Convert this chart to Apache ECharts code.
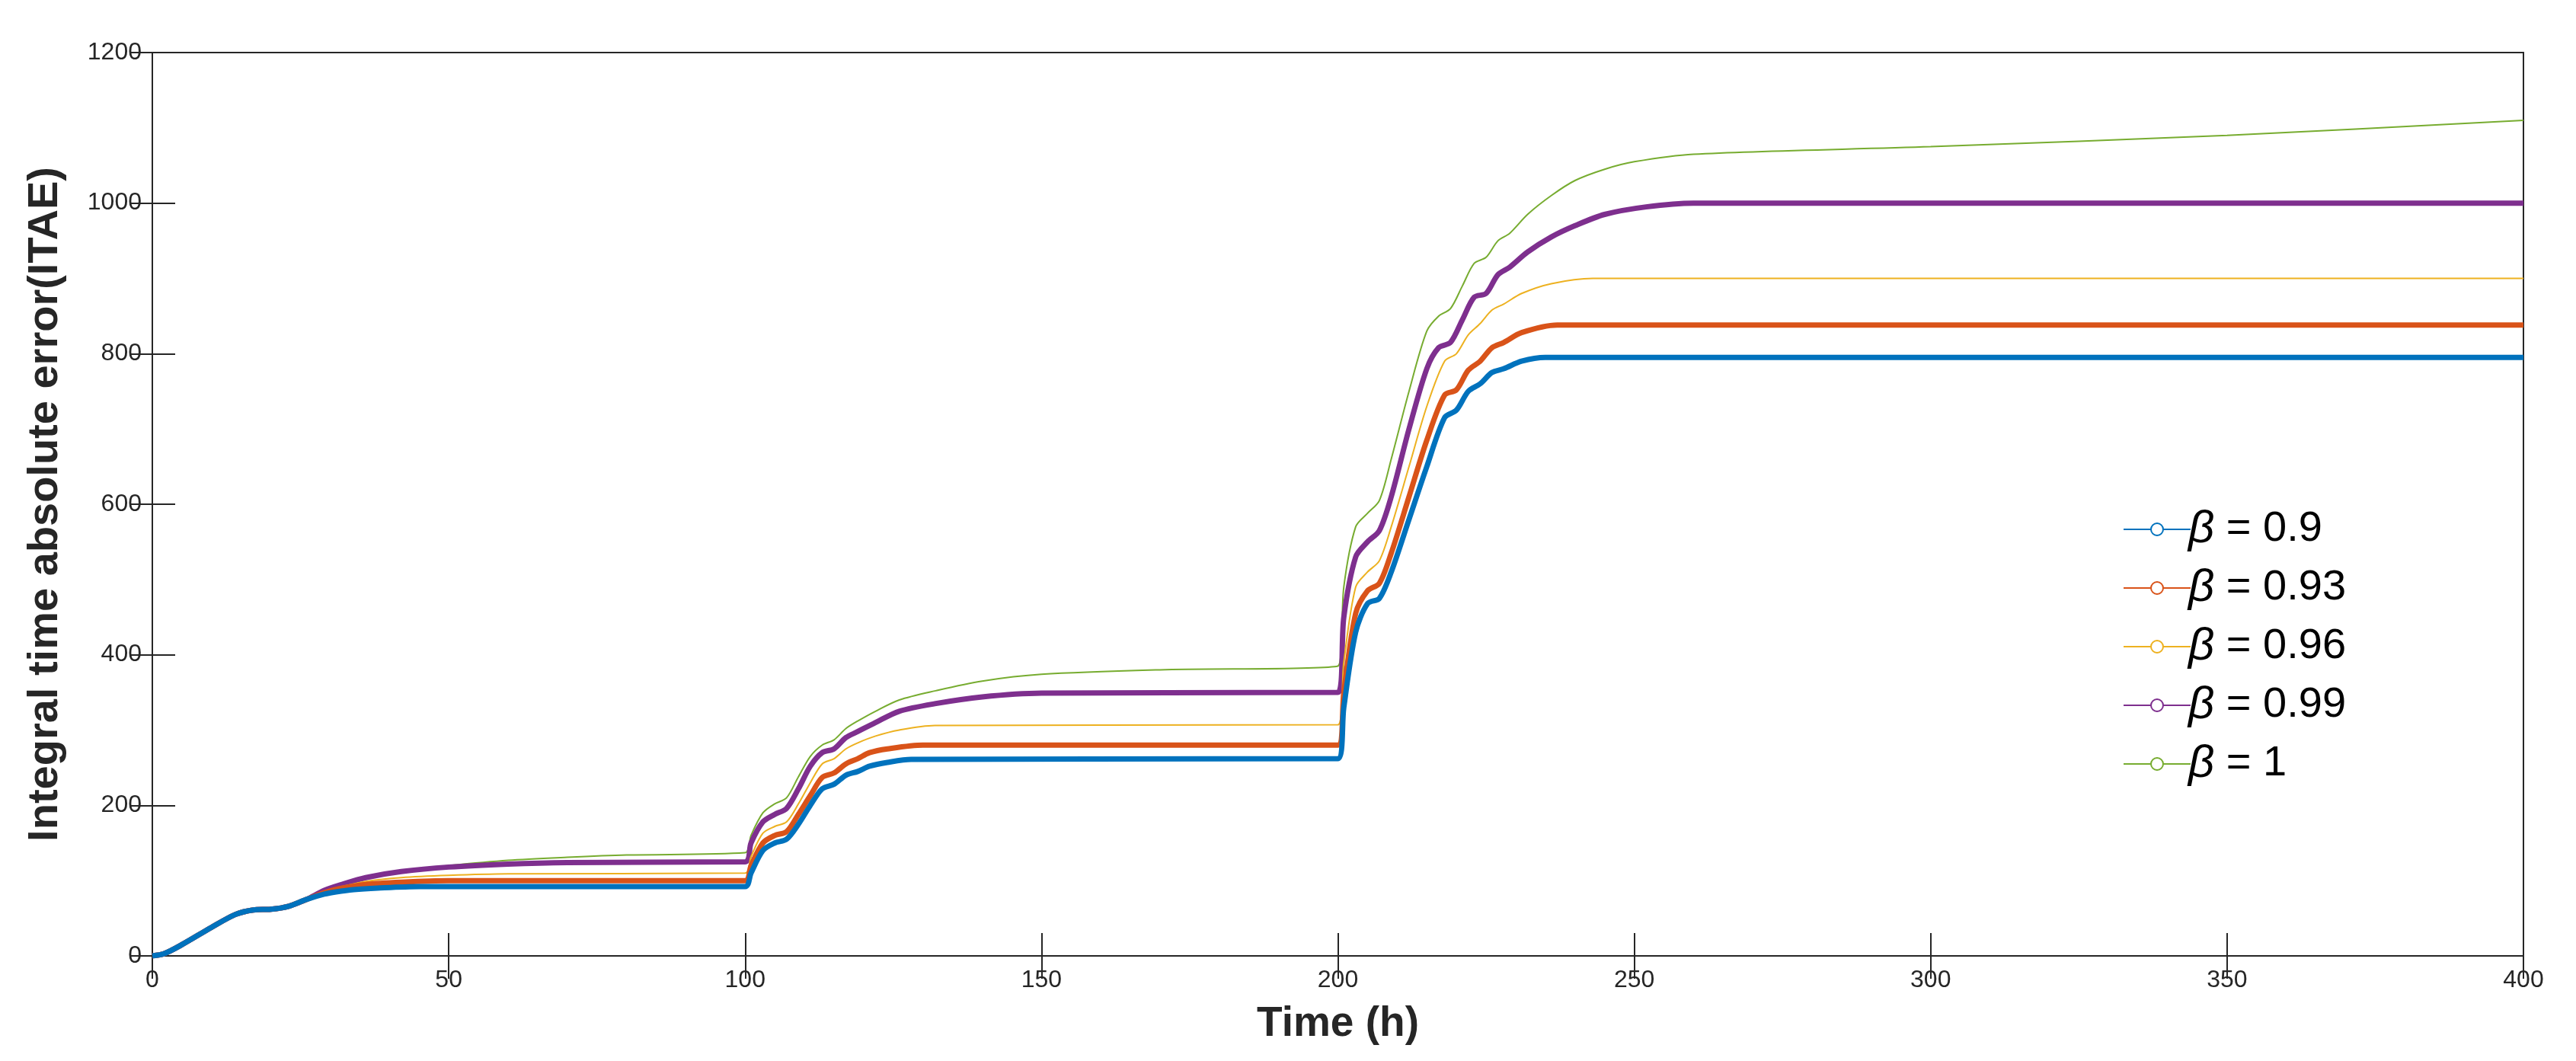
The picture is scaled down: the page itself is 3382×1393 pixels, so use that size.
<!DOCTYPE html>
<html>
<head>
<meta charset="utf-8">
<script src="https://cdn.jsdelivr.net/npm/echarts@6/dist/echarts.min.js"></script>
<style>html,body{margin:0;padding:0;background:#fff}#main{width:3382px;height:1393px}</style>
</head>
<body>
<div id="main"></div>
<script>
// ITAE curves, [time (h), ITAE]
var names = ['β = 0.9', 'β = 0.93', 'β = 0.96', 'β = 0.99', 'β = 1'];
var colors = ['#0072BD', '#D95319', '#EDB120', '#7E2F8E', '#77AC30'];
var widths = [7, 7, 2, 7, 2];

var startPart = [[0,0],[2,3],[5,15],[10,38],[14,55],[17,61],[20,62],[23,66],[26,75]];

var beta090 = startPart.concat([[29,82],[31,85],[34,88],[38,90],[45,92],[100,92],
  [101,110],[103,140],[105,150],[107,155],[109,175],[111,200],[113,222],[115,228],[117,240],[119,245],[121,252],[124,257],[128,261],[200,262],
  [201,330],[203,430],[205,468],[207,475],[209,510],[212,580],[215,650],[218,715],[220,725],[222,750],[224,760],[226,775],[228,780],[231,790],[235,795],[400,795]]);

var beta093 = startPart.concat([[29,84],[32,90],[36,95],[42,98],[50,100],[100,100],
  [101,120],[103,150],[105,160],[107,165],[109,188],[111,213],[113,237],[115,243],[117,255],[119,262],[121,270],[124,275],[130,280],[200,280],
  [201,350],[203,455],[205,485],[207,495],[209,535],[212,610],[215,685],[218,745],[220,752],[222,778],[224,790],[226,808],[228,815],[231,828],[237,838],[400,838]]);

var beta096 = startPart.concat([[29,85],[32,92],[36,99],[42,104],[50,107],[60,109],[100,110],
  [101,132],[103,163],[105,172],[107,178],[109,202],[111,230],[113,255],[115,262],[117,275],[119,283],[122,292],[126,300],[132,306],[200,307],
  [201,390],[203,490],[205,510],[207,525],[209,570],[212,650],[215,730],[218,790],[220,800],[222,825],[224,840],[226,858],[228,866],[231,880],[236,893],[243,900],[400,900]]);

var beta099 = startPart.concat([[29,87],[32,95],[36,104],[42,112],[50,118],[60,122],[70,124],[100,125],
  [101,150],[103,178],[105,188],[107,196],[109,222],[111,252],[113,270],[115,275],[117,290],[119,298],[122,310],[126,325],[132,335],[140,344],[150,349],[200,350],
  [201,450],[203,530],[205,550],[207,565],[209,610],[212,700],[215,780],[217,808],[219,815],[221,845],[223,875],[225,880],[227,905],[229,915],[232,935],[236,955],[240,970],[245,985],[252,995],[260,1000],[400,1000]]);

var beta100 = startPart.concat([[29,88],[32,96],[36,105],[42,113],[50,120],[60,127],[70,131],[80,134],[100,137],
  [101,160],[103,190],[105,202],[107,210],[109,238],[111,265],[113,280],[115,287],[117,302],[119,312],[122,325],[126,340],[132,352],[140,365],[150,374],[170,380],[200,385],
  [201,490],[203,570],[205,588],[207,605],[209,660],[212,750],[215,830],[217,850],[219,860],[221,890],[223,920],[225,928],[227,950],[229,960],[232,985],[236,1010],[240,1030],[245,1045],[250,1055],[260,1065],[300,1075],[350,1090],[400,1110]]);

var allData = [beta090, beta093, beta096, beta099, beta100];

var myChart = echarts.init(document.getElementById('main'));

var axisCol = '#262626';
var font = 'Helvetica, Arial, "Liberation Sans", sans-serif';

var series = [];
for (var i = 0; i < names.length; i++) {
    series.push({
        name: names[i],
        type: 'line',
        data: allData[i],
        showSymbol: false,
        smooth: 0.3,
        color: colors[i],
        lineStyle: { width: widths[i], color: colors[i] },
        z: 10 - i
    });
}

var option = {
    animation: false,
    backgroundColor: '#fff',
    grid: { left: 200, right: 69, top: 69, bottom: 138, show: true, borderColor: axisCol, borderWidth: 2 },
    legend: {
        orient: 'vertical',
        left: 2782,
        top: 660,
        itemWidth: 88,
        itemHeight: 20,
        itemGap: 17,
        data: names,
        formatter: function (n) { return '{b|β}' + n.slice(1); },
        textStyle: {
            fontFamily: font, fontSize: 56, color: '#000', padding: [0, 0, 0, -8],
            rich: { b: { fontStyle: 'italic', fontSize: 60, fontFamily: font, color: '#000' } }
        }
    },
    xAxis: [{
        type: 'value', min: 0, max: 400, interval: 50,
        name: 'Time (h)', nameLocation: 'middle', nameGap: 62,
        nameTextStyle: { fontFamily: font, fontSize: 55, fontWeight: 'bold', color: axisCol },
        axisLine: { lineStyle: { color: axisCol, width: 2 } },
        axisTick: { inside: true, length: 30, lineStyle: { color: axisCol, width: 2 } },
        axisLabel: { fontFamily: font, fontSize: 32, color: axisCol, margin: 16, formatter: function (v) { return String(v); } },
        splitLine: { show: false }
    }, {
        type: 'value', min: 0, max: 400, interval: 50, position: 'top',
        axisLine: { show: false },
        axisTick: { inside: true, length: 30, lineStyle: { color: axisCol, width: 2 } },
        axisLabel: { show: false }, splitLine: { show: false }
    }],
    yAxis: [{
        type: 'value', min: 0, max: 1200, interval: 200,
        name: 'Integral time absolute error(ITAE)', nameLocation: 'middle', nameGap: 112,
        nameTextStyle: { fontFamily: font, fontSize: 56, fontWeight: 'bold', color: axisCol },
        axisLine: { show: true, lineStyle: { color: axisCol, width: 2 } },
        axisTick: { inside: true, length: 30, lineStyle: { color: axisCol, width: 2 } },
        axisLabel: { fontFamily: font, fontSize: 32, color: axisCol, margin: 14, formatter: function (v) { return String(v); } },
        splitLine: { show: false }
    }, {
        type: 'value', min: 0, max: 1200, interval: 200, position: 'right',
        axisLine: { show: false },
        axisTick: { inside: true, length: 30, lineStyle: { color: axisCol, width: 2 } },
        axisLabel: { show: false }, splitLine: { show: false }
    }],
    series: series
};

myChart.setOption(option);
</script>
</body>
</html>
